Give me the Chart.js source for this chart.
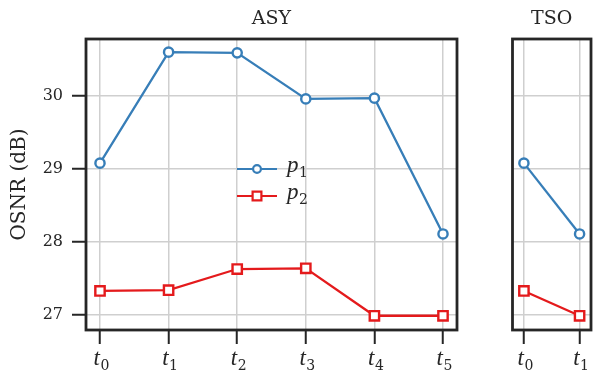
<!DOCTYPE html>
<html><head><meta charset="utf-8">
<script src="https://cdn.jsdelivr.net/npm/chart.js@4.4.0/dist/chart.umd.min.js"></script>
<style>
html,body{margin:0;padding:0;background:#fff;width:600px;height:375px;overflow:hidden}
canvas{position:absolute;top:0}
#c1{left:0}
#c2{left:475px}
</style></head><body>
<canvas id="c1" width="475" height="375"></canvas>
<canvas id="c2" width="125" height="375"></canvas>
<script>
// ---- data ----
const asyTimes = [0, 1, 2, 3, 4, 5];
const asyTickSubs = ['0', '1', '2', '3', '4', '5'];
const asyP1 = [29.08, 30.60, 30.59, 29.96, 29.97, 28.11];
const asyP2 = [27.33, 27.34, 27.63, 27.64, 26.99, 26.99];
const tsoTimes = [0, 1];
const tsoTickSubs = ['0', '1'];
const tsoP1 = [29.08, 28.11];
const tsoP2 = [27.33, 26.99];
const yTicks = [27, 28, 29, 30];
const seriesSubs = ['1', '2'];
const panelTitles = ['ASY', 'TSO'];
const yTitle = 'OSNR (dB)';

// ---- style ----
const BLUE = '#377eb8', RED = '#e41a1c', DARK = '#262626', GRID = '#cfcfcf';
const SERIF = "'DejaVu Serif', serif";
const MATH = "italic 23px 'Liberation Serif', serif";
const SUBF = "14px " + SERIF;
const Y_MIN = 26.795, Y_MAX = 30.78;

function mathText(ctx, cx, baseline, main, sub, mainFont, subFont, align) {
  ctx.font = mainFont; const w1 = ctx.measureText(main).width;
  ctx.font = subFont; const w2 = ctx.measureText(sub).width;
  const total = w1 + w2 + 0.5;
  let x = align === 'left' ? cx : cx - total / 2;
  ctx.fillStyle = DARK; ctx.textAlign = 'left'; ctx.textBaseline = 'alphabetic';
  ctx.font = mainFont; ctx.fillText(main, x, baseline);
  ctx.font = subFont; ctx.fillText(sub, x + w1 + 0.5, baseline + 5);
}

function makeDatasets(times, p1, p2) {
  return [
    { label: 'p1', data: times.map((t, i) => ({ x: t, y: p1[i] })), borderColor: BLUE,
      backgroundColor: BLUE, borderWidth: 2.3, pointStyle: 'circle', pointRadius: 4.6,
      pointBorderWidth: 2.4, pointBackgroundColor: '#ffffff', pointBorderColor: BLUE, tension: 0 },
    { label: 'p2', data: times.map((t, i) => ({ x: t, y: p2[i] })), borderColor: RED,
      backgroundColor: RED, borderWidth: 2.3, pointStyle: 'rect', pointRadius: 6.6,
      pointBorderWidth: 2.4, pointBackgroundColor: '#ffffff', pointBorderColor: RED, tension: 0 }
  ];
}

function makePanelPlugin(opts) {
  return {
    id: 'panel' + opts.title,
    afterDraw(chart) {
      const ctx = chart.ctx, a = chart.chartArea, xs = chart.scales.x;
      ctx.save();
      // frame
      ctx.strokeStyle = DARK; ctx.lineWidth = 2.8;
      ctx.strokeRect(a.left, a.top, a.right - a.left, a.bottom - a.top);
      // title
      ctx.fillStyle = DARK; ctx.font = '19px ' + SERIF; ctx.textAlign = 'center';
      ctx.textBaseline = 'alphabetic';
      ctx.fillText(opts.title, (a.left + a.right) / 2, 24);
      // x tick labels t_i
      opts.times.forEach((t, i) => {
        const px = xs.getPixelForValue(t);
        mathText(ctx, px + 1.5, 365, 't', opts.subs[i], MATH, SUBF, 'center');
      });
      if (opts.yTitle) {
        ctx.save();
        ctx.translate(20, (a.top + a.bottom) / 2);
        ctx.rotate(-Math.PI / 2);
        ctx.fillStyle = DARK; ctx.font = '20px ' + SERIF; ctx.textAlign = 'center';
        ctx.textBaseline = 'middle';
        ctx.fillText(opts.yTitle, 0, 0);
        ctx.restore();
      }
      if (opts.legend) {
        const lx = 237, ly = [169, 196];
        chart.data.datasets.forEach((ds, i) => {
          const y = ly[i];
          ctx.strokeStyle = ds.borderColor; ctx.lineWidth = 2.2;
          ctx.beginPath(); ctx.moveTo(lx, y); ctx.lineTo(lx + 40, y); ctx.stroke();
          ctx.fillStyle = '#fff'; ctx.lineWidth = 2.2;
          ctx.beginPath();
          if (ds.pointStyle === 'circle') { ctx.arc(lx + 20, y, 3.9, 0, Math.PI * 2); }
          else { ctx.rect(lx + 20 - 4.4, y - 4.4, 8.8, 8.8); }
          ctx.fill(); ctx.stroke();
          mathText(ctx, lx + 50, y + 3, 'p', seriesSubs[i], MATH, SUBF, 'left');
        });
      }
      ctx.restore();
    }
  };
}

function makeChart(id, times, subs, p1, p2, xMin, xMax, padRight, yWidth, showY, extra) {
  return new Chart(document.getElementById(id), {
    type: 'line',
    data: { datasets: makeDatasets(times, p1, p2) },
    options: {
      responsive: false, animation: false, devicePixelRatio: 1,
      layout: { padding: { top: 39, left: 0, right: padRight, bottom: 0 } },
      plugins: { legend: { display: false }, tooltip: { enabled: false }, title: { display: false } },
      scales: {
        x: {
          type: 'linear', min: xMin, max: xMax, bounds: 'data',
          afterBuildTicks: s => { s.ticks = times.map(v => ({ value: v })); },
          afterFit: s => { s.height = 45; },
          ticks: { display: false },
          grid: { color: GRID, lineWidth: 1.5, tickColor: DARK, tickWidth: 2, tickLength: 14, drawTicks: true },
          border: { display: false }
        },
        y: {
          type: 'linear', min: Y_MIN, max: Y_MAX, bounds: 'data',
          afterBuildTicks: s => { s.ticks = yTicks.map(v => ({ value: v })); },
          afterFit: s => { s.width = yWidth; },
          ticks: { display: showY, color: DARK, font: { family: SERIF, size: 16 }, padding: 9,
                   callback: v => String(v) },
          grid: { color: GRID, lineWidth: 1.5, tickColor: DARK, tickWidth: 2, tickLength: 14, drawTicks: showY },
          border: { display: false }
        }
      }
    },
    plugins: [makePanelPlugin(Object.assign({ times, subs }, extra))]
  });
}

makeChart('c1', asyTimes, asyTickSubs, asyP1, asyP2, -0.204, 5.204, 18, 86, true,
  { title: panelTitles[0], yTitle: yTitle, legend: true });
makeChart('c2', tsoTimes, tsoTickSubs, tsoP1, tsoP2, -0.205, 1.205, 1.5, 37.5, false,
  { title: panelTitles[1], yTitle: null, legend: false });
</script>
</body></html>
